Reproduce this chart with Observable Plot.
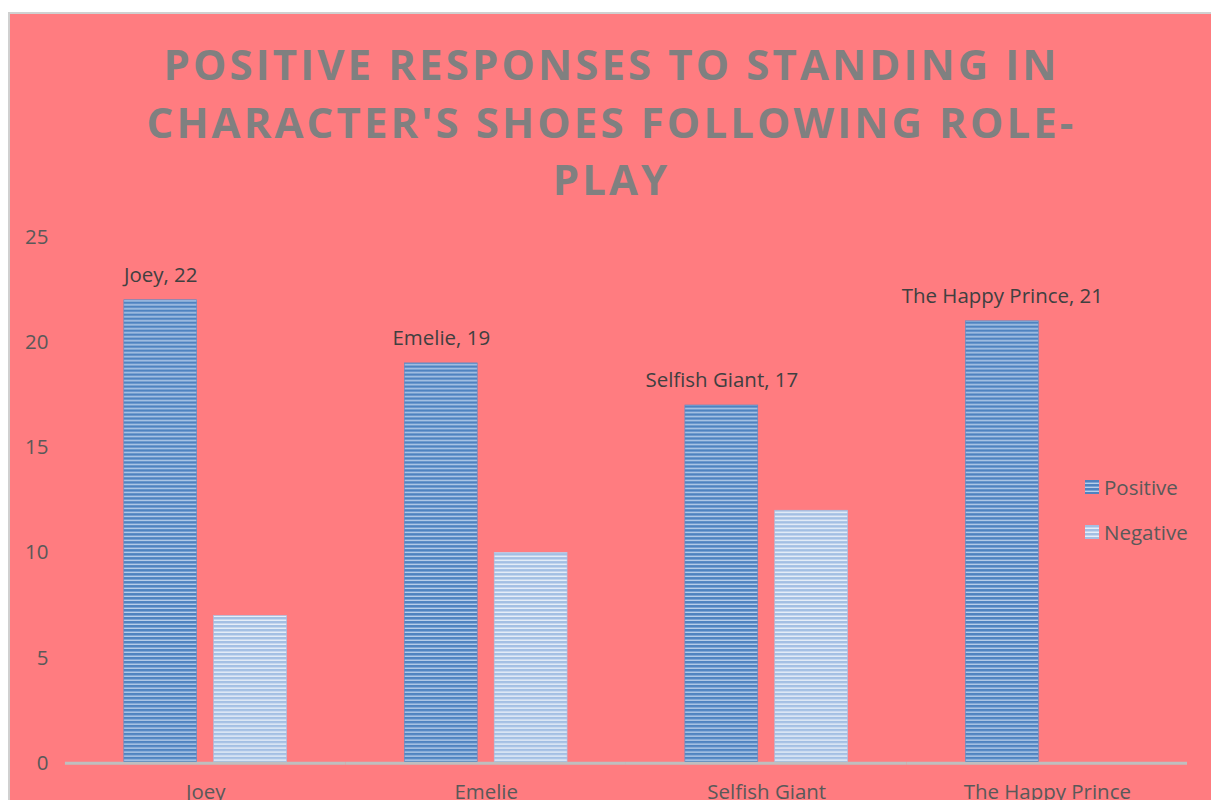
<!DOCTYPE html>
<html>
<head>
<meta charset="utf-8">
<script src="https://cdn.jsdelivr.net/npm/d3@7"></script>
<script src="https://cdn.jsdelivr.net/npm/@observablehq/plot@0.6"></script>
<style>
  html, body { margin: 0; padding: 0; background: #ffffff; overflow: hidden; }
  #chart {
    position: absolute; left: 8px; top: 12px; width: 1203px; height: 800px;
    background: #ff7c80; border-left: 2px solid #d0d0d0; border-top: 2px solid #d0d0d0;
    box-sizing: border-box; overflow: hidden;
  }
  #title {
    position: absolute; left: 0; top: 21px; width: 1203px; text-align: center;
    font-family: "Open Sans", sans-serif; font-weight: 700; font-size: 42px;
    letter-spacing: 3.1px; line-height: 57.5px; color: #808080;
  }
  #plot { position: absolute; left: 0; top: 0; }
  #legend {
    position: absolute; left: 1075px; top: 450px;
    font-family: "Open Sans", sans-serif; font-size: 20.5px; color: #595959;
  }
  .item { display: flex; align-items: center; height: 45px; }
  .sw { width: 14px; height: 14px; margin-right: 5px; }
</style>
</head>
<body>
<div id="chart">
  <div id="title">POSITIVE RESPONSES TO STANDING IN<br>CHARACTER'S SHOES FOLLOWING ROLE-<br>PLAY</div>
  <div id="plot"></div>
  <div id="legend"></div>
</div>
<script>
const categories = ["Joey", "Emelie", "Selfish Giant", "The Happy Prince"];
const seriesNames = ["Positive", "Negative"];
const positive = [22, 19, 17, 21];
const negative = [7, 10, 12, 0];
const yTicks = [0, 5, 10, 15, 20, 25];

const data = [];
categories.forEach((c, i) => {
  data.push({category: c, series: "Positive", value: positive[i]});
  data.push({category: c, series: "Negative", value: negative[i]});
});

const fills = {Positive: "url(#patPos)", Negative: "url(#patNeg)"};

const chart = Plot.plot({
  width: 1203,
  height: 788,
  marginTop: 223,
  marginBottom: 38,
  marginLeft: 55,
  marginRight: 24,
  style: {background: "transparent", fontFamily: "Open Sans, sans-serif", fontSize: "20.5px", color: "#595959", overflow: "visible"},
  fx: {domain: categories, padding: 0, label: null, axis: "bottom", tickSize: 0, tickPadding: 21},
  x: {domain: seriesNames, paddingInner: 0.19, paddingOuter: 0.65, axis: null},
  y: {domain: [0, 25], ticks: yTicks, label: null, tickSize: 0, tickPadding: 17},
  marks: [
    Plot.barY(data.filter(d => d.value > 0), {
      fx: "category", x: "series", y: "value",
      fill: d => fills[d.series],
      stroke: d => d.series === "Positive" ? "#5b8cc6" : "#a8c2e4", strokeWidth: 0.6
    }),
    Plot.ruleY([0], {stroke: "#bfbfbf", strokeWidth: 3}),
    Plot.text(data.filter(d => d.series === "Positive"), {
      fx: "category", x: "series", y: "value",
      text: d => `${d.category}, ${d.value}`,
      dy: -25, fill: "#404040", fontSize: 20.5
    })
  ]
});

// patterns for striped bars
const ns = "http://www.w3.org/2000/svg";
const defs = document.createElementNS(ns, "defs");
defs.innerHTML = `
  <pattern id="patPos" patternUnits="userSpaceOnUse" width="8" height="4">
    <rect width="8" height="4" fill="#b9cfea"/>
    <rect width="8" height="2" fill="#4f83c0"/>
    <rect y="2" width="8" height="1" fill="#7ba3d4"/>
  </pattern>
  <pattern id="patNeg" patternUnits="userSpaceOnUse" width="8" height="4">
    <rect width="8" height="4" fill="#e6eef8"/>
    <rect width="8" height="2" fill="#a3bfe3"/>
    <rect y="2" width="8" height="1" fill="#c4d6ee"/>
  </pattern>`;
chart.insertBefore(defs, chart.firstChild);
document.getElementById("plot").appendChild(chart);

// legend
const legend = document.getElementById("legend");
seriesNames.forEach(s => {
  const item = document.createElement("div");
  item.className = "item";
  const sw = document.createElementNS(ns, "svg");
  sw.setAttribute("class", "sw");
  sw.setAttribute("width", 14); sw.setAttribute("height", 14);
  sw.innerHTML = `<rect width="14" height="14" fill="${fills[s]}"/>`;
  item.appendChild(sw);
  const t = document.createElement("span");
  t.textContent = s;
  item.appendChild(t);
  legend.appendChild(item);
});
</script>
</body>
</html>
